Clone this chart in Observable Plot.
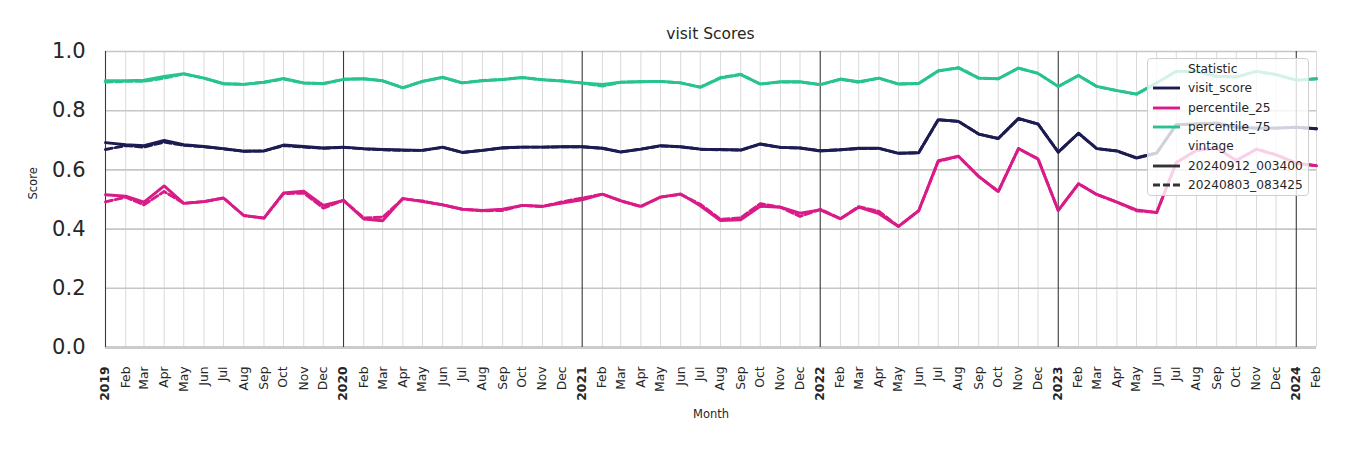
<!DOCTYPE html>
<html>
<head>
<meta charset="utf-8">
<script src="https://cdn.jsdelivr.net/npm/d3@7"></script>
<script src="https://cdn.jsdelivr.net/npm/@observablehq/plot@0.6"></script>
<style>
  html, body { margin: 0; padding: 0; background: #fff; }
  body { width: 1350px; height: 450px; position: relative; overflow: hidden; font-family: "DejaVu Sans", sans-serif; }
  #title { position: absolute; left: 0; width: 1421px; top: 25px; text-align: center; font-size: 15.5px; color: #262626; }
  #chart { position: absolute; left: 0; top: 0; }
  #legend { position: absolute; left: 1147px; top: 58px; width: 162px; height: 138px; background: rgba(255,255,255,0.8); border: 1px solid #d0d0d0; border-radius: 4px; box-sizing: border-box; font-size: 12.2px; color: #262626; }
  .lrow { position: absolute; left: 0; height: 16px; line-height: 16px; white-space: nowrap; }
  .lrow span { position: absolute; left: 40px; }
  .lrow svg { position: absolute; left: 5px; top: 0; }
</style>
</head>
<body>
<div id="title">visit Scores</div>
<div id="chart"></div>
<div id="legend"></div>
<script>
// Months from Jan 2019 to Feb 2024
const months = [
  "2019-01","2019-02","2019-03","2019-04","2019-05","2019-06","2019-07","2019-08","2019-09","2019-10","2019-11","2019-12",
  "2020-01","2020-02","2020-03","2020-04","2020-05","2020-06","2020-07","2020-08","2020-09","2020-10","2020-11","2020-12",
  "2021-01","2021-02","2021-03","2021-04","2021-05","2021-06","2021-07","2021-08","2021-09","2021-10","2021-11","2021-12",
  "2022-01","2022-02","2022-03","2022-04","2022-05","2022-06","2022-07","2022-08","2022-09","2022-10","2022-11","2022-12",
  "2023-01","2023-02","2023-03","2023-04","2023-05","2023-06","2023-07","2023-08","2023-09","2023-10","2023-11","2023-12",
  "2024-01","2024-02"
];

const statistics = ["visit_score", "percentile_25", "percentile_75"];
const statColors = ["#1c1b52", "#d91b87", "#27c391"];
const vintages = ["20240912_003400", "20240803_083425"];
const monthNames = ["Jan","Feb","Mar","Apr","May","Jun","Jul","Aug","Sep","Oct","Nov","Dec"];
const yTicks = [0, 0.2, 0.4, 0.6, 0.8, 1.0];

// vintage 20240912_003400
const visitScoreA = [
  0.692,0.685,0.682,0.700,0.685,0.679,0.672,0.663,0.664,0.684,0.679,0.674,
  0.677,0.672,0.669,0.667,0.666,0.677,0.659,0.666,0.675,0.677,0.677,0.678,
  0.678,0.673,0.660,0.670,0.682,0.678,0.670,0.669,0.667,0.688,0.676,0.674,
  0.664,0.668,0.673,0.673,0.656,0.658,0.770,0.764,0.721,0.706,0.774,0.755,
  0.660,0.724,0.672,0.664,0.640,0.657,0.753,0.755,0.758,0.744,0.741,0.741,
  0.744,0.739
];
const p25A = [
  0.516,0.511,0.491,0.546,0.487,0.493,0.505,0.446,0.437,0.522,0.528,0.480,
  0.497,0.434,0.428,0.504,0.493,0.482,0.467,0.463,0.467,0.480,0.477,0.488,
  0.499,0.518,0.496,0.477,0.508,0.519,0.479,0.429,0.431,0.477,0.474,0.454,
  0.465,0.435,0.474,0.452,0.409,0.462,0.631,0.646,0.578,0.527,0.672,0.637,
  0.463,0.553,0.517,0.491,0.465,0.456,0.625,0.666,0.674,0.632,0.670,0.651,
  0.623,0.614
];
const p75A = [
  0.901,0.901,0.903,0.916,0.925,0.910,0.891,0.889,0.896,0.909,0.894,0.891,
  0.906,0.908,0.901,0.877,0.899,0.913,0.894,0.901,0.905,0.912,0.904,0.900,
  0.894,0.889,0.896,0.898,0.899,0.894,0.879,0.910,0.922,0.890,0.898,0.898,
  0.888,0.907,0.898,0.910,0.890,0.892,0.935,0.944,0.910,0.908,0.944,0.926,
  0.882,0.919,0.882,0.868,0.856,0.894,0.933,0.933,0.916,0.914,0.933,0.922,
  0.903,0.908
];

// vintage 20240803_083425
const visitScoreB = [
  0.669,0.682,0.677,0.694,0.683,0.678,0.671,0.663,0.664,0.682,0.677,0.673,
  0.676,0.671,0.668,0.666,0.666,0.676,0.659,0.666,0.674,0.677,0.677,0.678,
  0.678,0.673,0.661,0.670,0.681,0.678,0.670,0.668,0.667,0.687,0.676,0.674,
  0.665,0.668,0.672,0.673,0.656,0.658,0.769,0.764,0.721,0.706,0.773,0.755,
  0.660,0.724,0.672,0.664,0.641,0.657,0.753,0.755,0.758,0.744,0.741,0.741,
  0.744,0.739
];
const p25B = [
  0.492,0.508,0.482,0.527,0.487,0.493,0.505,0.446,0.437,0.520,0.522,0.471,
  0.497,0.438,0.440,0.502,0.495,0.482,0.467,0.462,0.463,0.480,0.476,0.492,
  0.505,0.518,0.495,0.476,0.508,0.517,0.484,0.433,0.438,0.486,0.474,0.443,
  0.467,0.435,0.476,0.460,0.409,0.462,0.629,0.646,0.578,0.527,0.672,0.637,
  0.463,0.553,0.517,0.491,0.462,0.456,0.625,0.666,0.674,0.632,0.670,0.651,
  0.623,0.614
];
const p75B = [
  0.897,0.899,0.899,0.910,0.924,0.910,0.891,0.889,0.896,0.907,0.893,0.892,
  0.906,0.908,0.901,0.878,0.899,0.912,0.894,0.902,0.906,0.912,0.905,0.901,
  0.893,0.883,0.896,0.898,0.899,0.894,0.880,0.912,0.923,0.890,0.897,0.897,
  0.888,0.906,0.896,0.910,0.890,0.892,0.934,0.946,0.910,0.908,0.944,0.926,
  0.882,0.919,0.882,0.868,0.856,0.894,0.933,0.933,0.916,0.914,0.933,0.922,
  0.903,0.908
];

const parse = d3.utcParse("%Y-%m");
const dates = months.map(parse);
const seriesA = [visitScoreA, p25A, p75A];
const seriesB = [visitScoreB, p25B, p75B];

function longForm(series, vintage) {
  const rows = [];
  series.forEach((vals, si) => {
    vals.forEach((v, i) => rows.push({date: dates[i], value: v, stat: statistics[si], vintage}));
  });
  return rows;
}
const dataA = longForm(seriesA, vintages[0]);
const dataB = longForm(seriesB, vintages[1]);

const janDates = dates.filter(d => d.getUTCMonth() === 0);
const otherDates = dates.filter(d => d.getUTCMonth() !== 0);

const chart = Plot.plot({
  width: 1350,
  height: 450,
  marginLeft: 105,
  marginRight: 34,
  marginTop: 51,
  marginBottom: 103,
  style: {fontFamily: "DejaVu Sans, sans-serif", background: "transparent"},
  x: {type: "utc", domain: [dates[0], dates[dates.length - 1]]},
  y: {domain: [0, 1]},
  color: {domain: statistics, range: statColors},
  marks: [
    Plot.gridX(otherDates, {stroke: "#dadada", strokeOpacity: 1, strokeWidth: 1}),
    Plot.gridY(yTicks, {stroke: "#c6c6c6", strokeOpacity: 1, strokeWidth: 1.6}),
    Plot.ruleY([0], {stroke: "#cccccc", strokeWidth: 3}),
    Plot.ruleX(janDates, {stroke: "#3a3a3a", strokeWidth: 1.1}),
    Plot.lineY(dataB, {x: "date", y: "value", z: "stat", stroke: "stat", strokeWidth: 2.9, strokeDasharray: "7,3"}),
    Plot.lineY(dataA, {x: "date", y: "value", z: "stat", stroke: "stat", strokeWidth: 2.9}),
    Plot.axisY(yTicks, {tickSize: 0, tickPadding: 20, fontSize: 21, tickFormat: d3.format(".1f"), label: null, fill: "#262626"}),
    Plot.axisX({ticks: []}),
    Plot.text(otherDates, {x: d => d, frameAnchor: "bottom", dy: 19, rotate: -90, textAnchor: "end", lineAnchor: "middle", text: d => monthNames[d.getUTCMonth()], fontSize: 12.3, fill: "#262626"}),
    Plot.text(janDates, {x: d => d, frameAnchor: "bottom", dy: 19, rotate: -90, textAnchor: "end", lineAnchor: "middle", text: d => String(d.getUTCFullYear()), fontSize: 12.3, fontWeight: "bold", fill: "#262626"}),
    Plot.text(["Score"], {frameAnchor: "left", dx: -72, rotate: -90, fontSize: 11.5, fill: "#262626"}),
    Plot.text(["Month"], {frameAnchor: "bottom", dy: 70, fontSize: 11.5, fill: "#262626"})
  ]
});
document.getElementById("chart").appendChild(chart);

// Legend
const legend = d3.select("#legend");
const items = [
  {label: "Statistic", header: true},
  ...statistics.map((s, i) => ({label: s, color: statColors[i], dash: null})),
  {label: "vintage", header: true},
  {label: vintages[0], color: "#333333", dash: null},
  {label: vintages[1], color: "#333333", dash: "7,3"}
];
items.forEach((it, i) => {
  const row = legend.append("div").attr("class", "lrow").style("top", (2 + i * 19.3) + "px").style("width", "160px");
  if (!it.header) {
    const svg = row.append("svg").attr("width", 30).attr("height", 16);
    svg.append("line").attr("x1", 0).attr("x2", 27).attr("y1", 8).attr("y2", 8)
      .attr("stroke", it.color).attr("stroke-width", 2.9)
      .attr("stroke-dasharray", it.dash);
  }
  row.append("span").text(it.label);
});
</script>
</body>
</html>
